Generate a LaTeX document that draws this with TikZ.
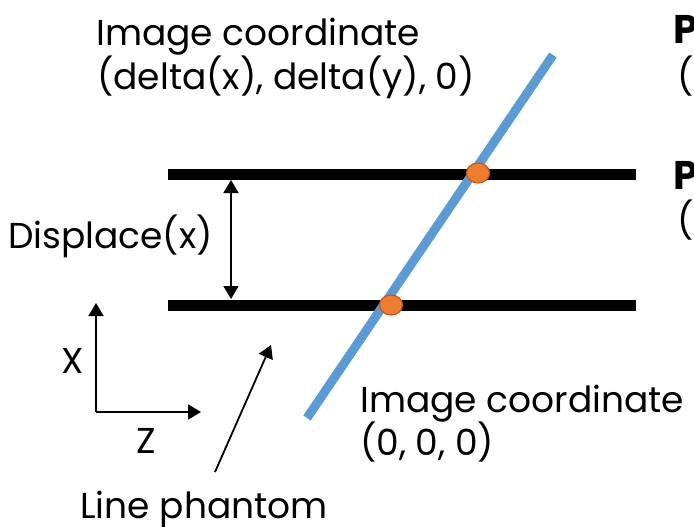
\documentclass[tikz,border=0pt]{standalone}
\usepackage{fontspec}
\setmainfont{Poppins}
\usetikzlibrary{arrows.meta,shapes.geometric}
\definecolor{bluel}{HTML}{5B9BD5}
\definecolor{orng}{HTML}{ED7D31}
\definecolor{orngd}{HTML}{C55A11}
\tikzset{
  bar/.style={line width=11pt},
  lbl/.style={inner sep=0pt, font=\fontsize{36}{42}\selectfont, align=left},
  boldlbl/.style={inner sep=0pt, font=\fontsize{40}{46}\selectfont\bfseries},
  thinarrow/.style={line width=1.8pt, -{Triangle[length=13pt,width=15pt]}},
  dot/.style={ellipse, minimum width=23pt, minimum height=20pt, fill=orng, draw=orngd, line width=1.2pt, inner sep=0pt}
}
\begin{document}
\begin{tikzpicture}[x=1pt,y=-1pt]
\useasboundingbox (0,0) rectangle (694,527);
\clip (0,0) rectangle (694,527);
% bars
\coordinate (t1) at (168,174); \coordinate (t2) at (636,174);
\coordinate (b1) at (168,305); \coordinate (b2) at (636,305);
\draw[bar] (t1) -- (t2);
\draw[bar] (b1) -- (b2);
% double arrow
\coordinate (da) at (231,180); \coordinate (db) at (231,299);
\draw[line width=1.8pt, {Triangle[length=13pt,width=15pt]}-{Triangle[length=13pt,width=15pt]}] (da) -- (db);
% blue line
\coordinate (l1) at (307,418); \coordinate (l2) at (553,55);
\draw[bluel, line width=9pt] (l1) -- (l2);
% dots
\node[dot] (d1) at (478,173) {};
\node[dot] (d2) at (391,305) {};
% texts
\node[lbl, anchor=base west] (ic1) at (96,46) {Image coordinate};
\node[lbl, anchor=base west] (ic1b) at (97,89) {(delta(x), delta(y), 0)};
\node[lbl, anchor=base west] (dx) at (8,248) {Displace(x)};
\node[lbl, anchor=base west] (ic2) at (360,412) {Image coordinate};
\node[lbl, anchor=base west] (ic2b) at (360,455) {(0, 0, 0)};
\node[lbl, anchor=base] (lp) at (204,518) {Line phantom};
\node[lbl, anchor=base] (xl) at (73,373) {X};
\node[lbl, anchor=base] (zl) at (146,453) {Z};
\node[boldlbl, anchor=base west] (p1) at (673,44) {P};
\node[lbl, anchor=base west] (p1b) at (677,90) {(0};
\node[boldlbl, anchor=base west] (p2) at (673,189) {P};
\node[lbl, anchor=base west] (p2b) at (677,233) {(0};
% axes
\coordinate (o) at (96,412);
\coordinate (xa) at (96,303);
\coordinate (za) at (201,412);
\draw[thinarrow] (o) -- (xa);
\draw[thinarrow] (o) -- (za);
% line phantom arrow
\coordinate (lpa) at (215,472);
\coordinate (lpb) at (271,345);
\draw[thinarrow] (lpa) -- (lpb);
\end{tikzpicture}
\end{document}
